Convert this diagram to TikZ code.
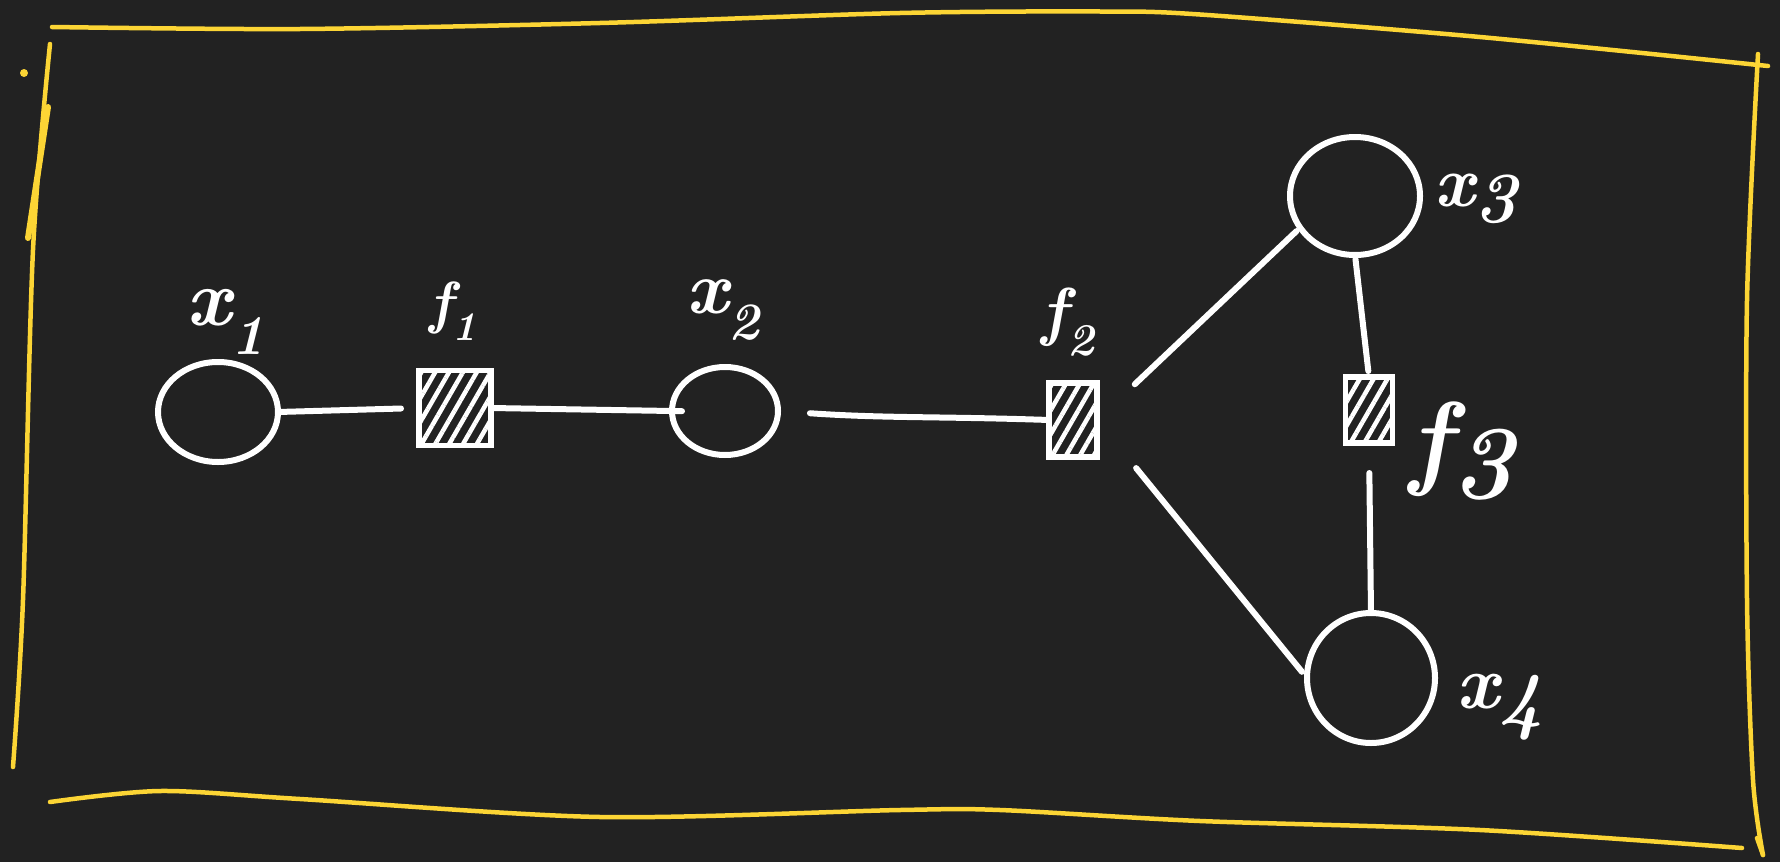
\documentclass[tikz,border=0pt]{standalone}
\usepackage{fontspec}
\usetikzlibrary{shapes.geometric,patterns.meta}
\definecolor{bg}{HTML}{222222}
\definecolor{pen}{HTML}{FCD535}
\newcommand{\lowdigit}[1]{\raisebox{-0.22em}{#1}}
\tikzset{
  var/.style={ellipse, draw=white, line width=6pt, inner sep=0pt, outer sep=0pt},
  fac/.style={rectangle, draw=white, line width=5.5pt, inner sep=0pt, outer sep=0pt,
    pattern={Lines[angle=60,distance=12pt,line width=4.5pt]}, pattern color=white},
  edge/.style={white, line width=6pt, line cap=round},
  lbl/.style={text=white, inner sep=0pt},
  frame/.style={pen, line width=4.5pt, line cap=round, line join=round},
}
\begin{document}
\begin{tikzpicture}[x=1pt,y=-1pt]
\fill[bg] (0,0) rectangle (1780,862);
\useasboundingbox (0,0) rectangle (1780,862);

% hand-drawn frame
\draw[frame] plot[smooth] coordinates {(52,27) (300,29) (600,23) (900,13) (1100,11.5) (1200,14.5) (1480,37) (1768,66)};
\draw[frame] plot[smooth] coordinates {(50,44) (33,250) (23,600) (13,767)};
\draw[frame, line width=6pt] (48,107) -- (28,238);
\fill[pen] (24,73) circle (4);
\draw[frame] plot[smooth] coordinates {(50,802) (160,791) (300,799) (600,817) (900,810) (1000,810) (1200,821) (1480,830) (1742,848)};
\draw[frame] plot[smooth] coordinates {(1758,54) (1747,300) (1747,600) (1753,780) (1763,855)};
\draw[frame] (1763,855) -- (1757,838);

% variable nodes
\node[var, minimum width=120pt, minimum height=100pt] (x1) at (218,412) {};
\node[var, minimum width=106pt, minimum height=88pt] (x2) at (725,411) {};
\node[var, minimum width=130pt, minimum height=118pt] (x3) at (1355,196) {};
\node[var, minimum width=128pt, minimum height=130pt] (x4) at (1371,678) {};

% factor nodes
\node[fac, minimum width=72pt, minimum height=75pt] (f1) at (455,408) {};
\node[fac, minimum width=48pt, minimum height=74pt] (f2) at (1073,420) {};
\node[fac, minimum width=47pt, minimum height=66pt] (f3) at (1369,410) {};

% labels
\node[lbl, font=\fontsize{80}{96}\selectfont\bfseries\itshape] (lx1) at (226,322) {x\textsubscript{1}};
\node[lbl, font=\fontsize{58}{70}\selectfont\bfseries\itshape] (lf1) at (453,311) {f\textsubscript{1}};
\node[lbl, font=\fontsize{75}{90}\selectfont\bfseries\itshape] (lx2) at (723,310) {x\textsubscript{2}};
\node[lbl, font=\fontsize{65}{78}\selectfont\bfseries\itshape] (lf2) at (1068,322) {f\textsubscript{2}};
\node[lbl, font=\fontsize{72}{86}\selectfont\bfseries\itshape] (lx3) at (1476,199) {x\lowdigit{3}};
\node[lbl, font=\fontsize{105}{126}\selectfont\bfseries\itshape] (lf3) at (1462,451) {f\lowdigit{3}};
\node[lbl, font=\fontsize{76}{90}\selectfont\bfseries\itshape] (lx4) at (1500,707) {x\lowdigit{4}};

% edges
\draw[edge, shorten >=18pt] (x1.east) -- (f1.west);
\draw[edge, shorten >=-10pt] (f1.east) -- (x2.west);
\draw[edge, shorten <=32pt] (x2.east) to[out=-4,in=178] (f2.west);
\draw[edge, shorten <=52pt, shorten >=5pt] (f2.east) -- (x3.210);
\draw[edge, shorten <=62pt, shorten >=8pt] (f2.east) -- (x4.180);
\draw[edge, shorten <=4pt, shorten >=6pt] (x3.south) -- (f3.north);
\draw[edge, shorten <=30pt] (f3.south) -- (x4.north);
\end{tikzpicture}
\end{document}
